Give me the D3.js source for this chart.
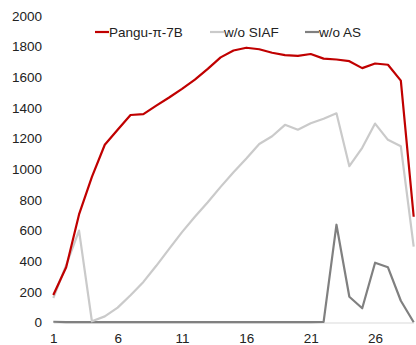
<!DOCTYPE html>
<html>
<head>
<meta charset="utf-8">
<script src="https://cdn.jsdelivr.net/npm/d3@7"></script>
<style>
  html, body { margin: 0; padding: 0; background: #fff; }
  svg text { font-family: "Liberation Sans", Arial, sans-serif; fill: #222; }
</style>
</head>
<body>
<svg id="chart" width="416" height="345"></svg>
<script>
// Steps along the x axis (1..29)
const steps = d3.range(1, 30);
const xTickLabels = [1, 6, 11, 16, 21, 26];
const yTickLabels = [0, 200, 400, 600, 800, 1000, 1200, 1400, 1600, 1800, 2000];

const seriesNames = ["Pangu-π-7B", "w/o SIAF", "w/o AS"];

const pangu = [180, 360, 705, 950, 1160, 1258, 1354, 1360, 1415, 1468, 1525, 1585, 1655, 1730, 1775,
  1793, 1783, 1760, 1745, 1740, 1752, 1722, 1716, 1705, 1660, 1690, 1682, 1578, 690];
const woSIAF = [160, 375, 600, 8, 40, 97, 178, 265, 370, 480, 590, 690, 785, 885, 980,
  1070, 1165, 1215, 1290, 1258, 1300, 1330, 1365, 1020, 1140, 1298, 1192, 1150, 495];
const woAS = [5, 3, 3, 2, 2, 2, 2, 2, 2, 3, 3, 3, 3, 3, 3,
  3, 2, 2, 2, 2, 2, 4, 638, 168, 93, 390, 360, 142, 2];

const colors = ["#C00000", "#CACACA", "#808080"];
const values = [pangu, woSIAF, woAS];

const svg = d3.select("#chart");

const x = d3.scaleLinear().domain([1, 29]).range([53.3, 413.7]);
const y = d3.scaleLinear().domain([0, 2000]).range([322.5, 16]);

// y axis labels only (no axis line)
const yAxis = d3.axisLeft(y).tickValues(yTickLabels).tickSize(0).tickPadding(0).tickFormat(d3.format("d"));
const gy = svg.append("g").attr("transform", "translate(42,0)").call(yAxis);
gy.select(".domain").remove();
gy.selectAll("text").attr("font-size", "13.5px").attr("font-family", "Liberation Sans, Arial, sans-serif").attr("fill", "#222");

// x axis: light baseline with labels
const xAxis = d3.axisBottom(x).tickValues(xTickLabels).tickSize(0).tickPadding(0).tickFormat(d3.format("d"));
const gx = svg.append("g").attr("transform", "translate(0,322.5)").call(xAxis);
gx.select(".domain").attr("stroke", "#D9D9D9").attr("stroke-width", 1.2);
gx.selectAll("text").attr("font-size", "13.5px").attr("dy", "0").attr("y", 20.5)
  .attr("font-family", "Liberation Sans, Arial, sans-serif").attr("fill", "#222");

const line = d3.line().x((d, i) => x(steps[i])).y(d => y(d));

// draw back to front: grey series below the red one
[2, 1, 0].forEach(k => {
  svg.append("path")
    .datum(values[k])
    .attr("fill", "none")
    .attr("stroke", colors[k])
    .attr("stroke-width", 2.2)
    .attr("stroke-linejoin", "round")
    .attr("d", line);
});

// legend
const legendX = [95, 210, 305];
const legend = svg.append("g");
seriesNames.forEach((name, k) => {
  const g = legend.append("g").attr("transform", `translate(${legendX[k]},32)`);
  g.append("line").attr("x1", 0).attr("x2", 14).attr("y1", 0).attr("y2", 0)
    .attr("stroke", colors[k]).attr("stroke-width", 2.2);
  g.append("text").attr("x", 14).attr("y", 5).attr("font-size", "13.5px").text(name);
});
</script>
</body>
</html>
